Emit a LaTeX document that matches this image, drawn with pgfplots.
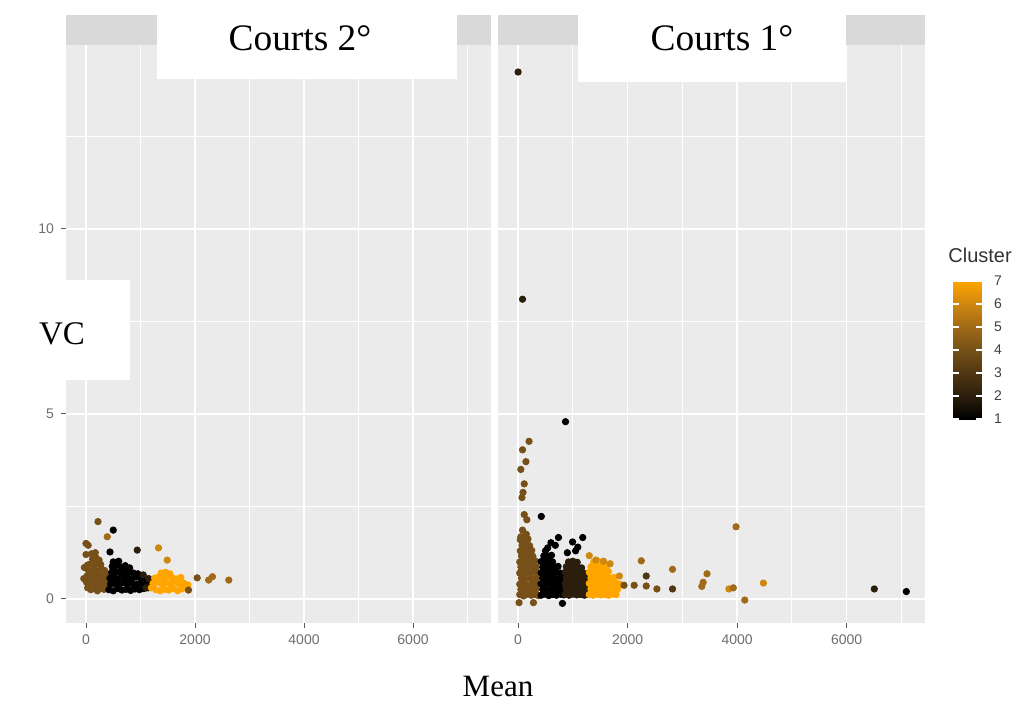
\documentclass[border=0pt]{standalone}
\usepackage{pgfplots}
\pgfplotsset{compat=1.18}
\usepackage{pgfplotstable}
\usepackage{fontspec}
\setmainfont{Liberation Sans}
\newfontfamily\serifont{Liberation Serif}
\definecolor{panelgrey}{HTML}{EBEBEB}
\definecolor{stripgrey}{HTML}{D9D9D9}
\definecolor{labgrey}{HTML}{6E6E6E}
\definecolor{tickgrey}{HTML}{5A5A5A}

\pgfplotstableread{
x y c
30 0.30 4
90 0.25 4
150 0.28 4
210 0.22 4
270 0.30 4
330 0.26 4
390 0.32 4
10 0.45 4
70 0.42 4
130 0.48 4
190 0.40 4
250 0.46 4
310 0.44 4
370 0.50 4
20 0.62 4
80 0.58 4
140 0.65 4
200 0.60 4
260 0.63 4
320 0.57 4
380 0.66 4
40 0.78 4
100 0.75 4
160 0.80 4
220 0.74 4
280 0.82 4
340 0.77 4
30 0.92 4
90 0.95 4
150 0.90 4
210 0.97 4
270 0.93 4
120 1.08 4
180 1.12 4
240 1.05 4
100 1.22 4
170 1.25 4
-30 0.85 4
-40 0.55 4
0 1.20 4
0 1.50 4
40 1.45 4
220 2.09 4
390 1.68 5
420 0.25 1
500 0.22 1
580 0.28 1
660 0.24 1
740 0.26 1
820 0.23 1
900 0.27 1
980 0.25 1
1060 0.28 1
1140 0.30 1
450 0.40 1
530 0.42 1
610 0.38 1
690 0.44 1
770 0.40 1
850 0.42 1
930 0.39 1
1010 0.43 1
1090 0.41 1
1170 0.45 1
440 0.56 1
520 0.58 1
600 0.55 1
680 0.60 1
760 0.57 1
840 0.55 1
920 0.59 1
1000 0.56 1
1080 0.54 1
470 0.72 1
550 0.74 1
630 0.70 1
710 0.75 1
790 0.72 1
870 0.70 1
950 0.68 1
480 0.88 1
560 0.92 1
640 0.86 1
720 0.90 1
800 0.84 1
500 1.00 1
600 1.02 1
440 1.27 1
500 1.86 1
940 1.32 2
1050 0.65 2
1150 0.55 2
1200 0.35 2
1100 0.30 2
1200 0.30 7
1280 0.25 7
1360 0.22 7
1440 0.26 7
1520 0.24 7
1600 0.28 7
1680 0.22 7
1760 0.27 7
1840 0.30 7
1230 0.42 7
1310 0.45 7
1390 0.40 7
1470 0.44 7
1550 0.41 7
1630 0.46 7
1710 0.40 7
1790 0.43 7
1870 0.38 7
1260 0.56 7
1340 0.60 7
1420 0.55 7
1500 0.62 7
1580 0.57 7
1660 0.54 7
1740 0.58 7
1380 0.70 7
1460 0.72 7
1540 0.68 7
1330 1.38 6
1490 1.05 6
2040 0.57 4
2250 0.51 5
2320 0.60 5
2620 0.51 5
1880 0.24 4
}\leftdata

\pgfplotstableread{
x y c
30 0.12 4
100 0.08 4
170 0.13 4
240 0.10 4
310 0.12 4
370 0.09 4
50 0.26 4
120 0.24 4
190 0.28 4
260 0.25 4
330 0.27 4
30 0.40 4
100 0.42 4
170 0.38 4
240 0.41 4
310 0.43 4
370 0.40 4
60 0.56 4
130 0.55 4
200 0.58 4
270 0.54 4
340 0.57 4
30 0.70 4
100 0.72 4
170 0.69 4
240 0.71 4
310 0.73 4
370 0.70 4
50 0.86 4
120 0.85 4
190 0.88 4
260 0.84 4
330 0.87 4
30 1.00 4
100 1.02 4
170 0.99 4
240 1.01 4
310 1.03 4
60 1.16 4
130 1.14 4
200 1.17 4
270 1.15 4
40 1.30 4
110 1.32 4
180 1.29 4
250 1.31 4
70 1.45 4
140 1.47 4
210 1.44 4
40 1.60 4
110 1.58 4
180 1.62 4
200 4.26 4
81 4.03 4
143 3.71 4
50 3.50 4
112 3.11 4
90 2.88 4
70 2.74 4
112 2.28 4
160 2.14 4
81 1.86 4
150 1.75 4
50 1.68 4
18 -0.10 4
280 -0.10 4
420 0.10 1
490 0.13 1
560 0.09 1
630 0.12 1
700 0.10 1
770 0.13 1
830 0.11 1
450 0.26 1
520 0.24 1
590 0.27 1
660 0.25 1
730 0.28 1
800 0.24 1
420 0.41 1
490 0.40 1
560 0.43 1
630 0.39 1
700 0.42 1
770 0.40 1
830 0.43 1
450 0.56 1
520 0.58 1
590 0.55 1
660 0.57 1
730 0.54 1
800 0.58 1
420 0.71 1
490 0.70 1
560 0.73 1
630 0.69 1
700 0.72 1
770 0.70 1
450 0.86 1
520 0.84 1
590 0.87 1
660 0.85 1
730 0.88 1
420 1.01 1
490 0.99 1
560 1.02 1
630 1.00 1
470 1.16 1
540 1.15 1
610 1.18 1
500 1.30 1
540 1.38 1
600 1.52 1
680 1.45 1
737 1.66 1
424 2.23 1
866 4.79 1
810 -0.12 1
995 1.54 1
1090 1.40 1
1180 1.66 1
900 1.25 1
1050 1.30 1
860 0.12 2
930 0.10 2
1000 0.13 2
1070 0.11 2
1140 0.12 2
1210 0.10 2
1260 0.13 2
880 0.27 2
950 0.28 2
1020 0.25 2
1090 0.27 2
1160 0.26 2
1230 0.28 2
860 0.42 2
930 0.41 2
1000 0.43 2
1070 0.40 2
1140 0.42 2
1210 0.44 2
1260 0.41 2
880 0.57 2
950 0.56 2
1020 0.58 2
1090 0.55 2
1160 0.57 2
1230 0.56 2
860 0.72 2
930 0.73 2
1000 0.70 2
1070 0.72 2
1140 0.71 2
1210 0.69 2
880 0.87 2
950 0.86 2
1020 0.88 2
1090 0.85 2
1160 0.84 2
920 1.00 2
1000 1.02 2
1080 0.99 2
0 14.24 2
81 8.10 2
6505 0.27 2
1300 0.12 7
1370 0.10 7
1440 0.13 7
1510 0.11 7
1580 0.12 7
1650 0.10 7
1720 0.13 7
1790 0.12 7
1330 0.27 7
1400 0.28 7
1470 0.25 7
1540 0.27 7
1610 0.26 7
1680 0.28 7
1750 0.25 7
1820 0.27 7
1300 0.42 7
1370 0.41 7
1440 0.43 7
1510 0.40 7
1580 0.42 7
1650 0.44 7
1720 0.41 7
1790 0.43 7
1860 0.40 7
1330 0.57 7
1400 0.56 7
1470 0.58 7
1540 0.55 7
1610 0.57 7
1680 0.56 7
1750 0.58 7
1300 0.72 7
1370 0.73 7
1440 0.70 7
1510 0.72 7
1580 0.71 7
1650 0.74 7
1330 0.87 7
1400 0.86 7
1470 0.88 7
1540 0.85 7
1610 0.89 7
1380 1.00 7
1460 1.02 7
1300 1.17 6
1680 0.95 6
1560 1.02 6
1850 0.62 6
1420 1.05 6
1935 0.37 4
2120 0.37 4
2250 1.03 5
2340 0.62 3
2340 0.35 4
2535 0.27 4
2820 0.80 5
2820 0.27 3
3355 0.34 5
3380 0.45 5
3450 0.68 5
3850 0.27 6
3930 0.30 5
3980 1.95 5
4140 -0.03 5
4480 0.43 6
7090 0.20 1
}\rightdata

\pgfplotsset{
  colormap={ggbo}{rgb255=(0,0,0) rgb255=(43,30,13) rgb255=(80,54,18) rgb255=(118,80,24) rgb255=(160,106,22) rgb255=(208,135,15) rgb255=(255,165,0)},
  facet/.style={
    scale only axis, anchor=south west,
    height=289pt,
    xmin=-367, xmax=7431, ymin=-0.65, ymax=14.97,
    axis background/.style={fill=panelgrey},
    axis line style={draw=none},
    xtick={0,2000,4000,6000}, ytick={0,5,10},
    minor xtick={1000,3000,5000,7000}, minor ytick={2.5,7.5,12.5},
    grid=both,
    major grid style={white, line width=0.8pt},
    minor grid style={white, line width=0.4pt},
    tick pos=left,
    tick align=outside, major tick length=2.5pt, minor tick length=0pt,
    tick style={tickgrey, line width=0.5pt},
    scaled x ticks=false,
    /pgf/number format/assume math mode=true,
    /pgf/number format/1000 sep={},
    ticklabel style={font=\fontsize{7}{8}\selectfont, text=labgrey},
    point meta min=1, point meta max=7,
  },
  pts/.style={scatter, only marks, mark=*, mark size=1.6pt,
    scatter/use mapped color={draw=mapped color, fill=mapped color},
    point meta=\thisrow{c}},
}

\begin{document}
\begin{tikzpicture}
\useasboundingbox (0,0) rectangle (509.5pt,360pt);
\fill[white] (0,0) rectangle (509.5pt,360pt);
\begin{scope}[x=0.5pt,y=0.5pt]
\fill[stripgrey] (66,675) rectangle (491,705);
\fill[stripgrey] (498,675) rectangle (925,705);
\end{scope}

\begin{axis}[facet, at={(33pt,48.5pt)}, width=212.5pt]
\addplot[pts] table[x=x,y=y] {\leftdata};
\end{axis}

\begin{axis}[facet, at={(249pt,48.5pt)}, width=213.5pt,
  yticklabels={}, ytick style={draw=none},
  colorbar,
  colorbar shift/.style={xshift=14pt, yshift=102pt},
  colorbar style={
    at={(parent axis.south east)}, anchor=south west,
    width=14.5pt, height=69pt, scale only axis,
    ytick={1,2,3,4,5,6,7},
    ytick pos=both, yticklabel pos=right,
    tick align=inside, major tick length=2.9pt,
    ytick style={white, line width=0.7pt},
    axis line style={draw=none},
    /pgf/number format/assume math mode=true,
    yticklabel style={font=\fontsize{7}{8}\selectfont, text=black!75, xshift=2.5pt},
  }]
\addplot[pts] table[x=x,y=y] {\rightdata};
\end{axis}

\begin{scope}[x=0.5pt,y=0.5pt]
\fill[white] (157,720) rectangle (457,641);
\fill[white] (578,720) rectangle (846,638);
\fill[white] (10,440) rectangle (130,340);
\node[font=\serifont\fontsize{18.7}{20}\selectfont, anchor=base, inner sep=0pt] at (300,670) {Courts 2°};
\node[font=\serifont\fontsize{18.7}{20}\selectfont, anchor=base, inner sep=0pt] at (722,670) {Courts 1°};
\node[font=\serifont\fontsize{16.5}{18}\selectfont, anchor=base, inner sep=0pt] at (62,376) {VC};
\node[font=\serifont\fontsize{15.5}{17}\selectfont, anchor=base, inner sep=0pt] at (498,24) {Mean};
\node[font=\fontsize{10}{11}\selectfont, text=black!80, anchor=base west, inner sep=0pt] at (948,458) {Cluster};
\end{scope}
\end{tikzpicture}
\end{document}
